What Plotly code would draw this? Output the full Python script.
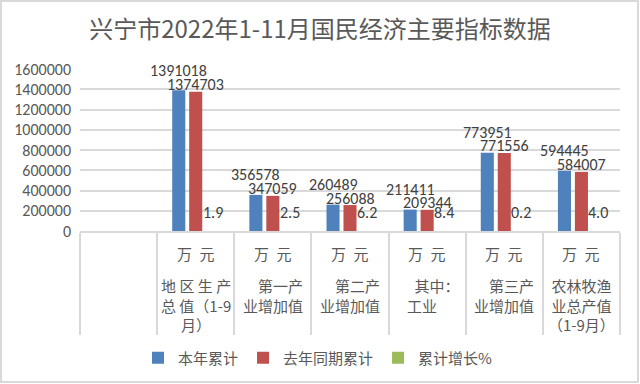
import plotly.graph_objects as go

# ---- data ----
categories = ["", "地 区 生 产<br>总 值（1-9<br>月）", "第一产<br>业增加值", "第二产<br>业增加值",
              "\u2002其中：<br>工业", "第三产<br>业增加值", "农林牧渔<br>业总产值<br>（1-9月）"]
units = ["", "万\u2002元", "万\u2002元", "万\u2002元", "万\u2002元", "万\u2002元", "万\u2002元"]
this_year = [None, 1391018, 356578, 260489, 211411, 773951, 594445]
last_year = [None, 1374703, 347059, 256088, 209344, 771556, 584007]
growth = [None, 1.9, 2.5, 6.2, 8.4, 0.2, 4.0]
name_align = [None, "center", "right", "right", "left", "right", "center"]
name_shift = [0, 0, 0, 0, 6, 0, 0]
series_names = ["本年累计", "去年同期累计", "累计增长%"]
colors = ["#4F81BD", "#C0504D", "#9BBB59"]
y_ticks = list(range(0, 1600001, 200000))

W, H = 640, 384
ML, MR, MT, MB = 80, 20, 69, 153
FONT = "Calibri, Carlito, 'Noto Sans CJK SC', sans-serif"
CJK = "'Noto Sans CJK SC', sans-serif"
TXT = "#595959"

xs = list(range(len(categories)))
fig = go.Figure()
for name, vals, col in zip(series_names, [this_year, last_year, growth], colors):
    fig.add_trace(go.Bar(x=xs, y=vals, name=name, marker=dict(color=col, line=dict(width=0))))

ann = []
lab_font = dict(family=FONT, size=16, color="#404040")
for i in xs:
    if this_year[i] is None:
        continue
    ann.append(dict(x=i, y=this_year[i], xref="x", yref="y", text=str(this_year[i]), showarrow=False,
                    xshift=-17, yshift=20, font=lab_font))
    ann.append(dict(x=i, y=last_year[i], xref="x", yref="y", text=str(last_year[i]), showarrow=False,
                    xshift=0, yshift=7, font=lab_font))
    ann.append(dict(x=i, y=growth[i], xref="x", yref="y", text=f"{growth[i]:.1f}", showarrow=False,
                    xshift=17, yshift=19, font=lab_font))
    ann.append(dict(x=i, y=0, xref="x", yref="paper", text=units[i], showarrow=False,
                    yanchor="middle", yshift=-22, font=dict(family=CJK, size=15, color=TXT)))
    ann.append(dict(x=i, y=0, xref="x", yref="paper", text=categories[i], showarrow=False,
                    align=name_align[i], yanchor="top", yshift=-42, xshift=name_shift[i],
                    font=dict(family=CJK, size=15, color=TXT)))

pw = W - ML - MR
ph = H - MT - MB
border = dict(type="rect", xref="paper", yref="paper",
              x0=(1 - ML) / pw, x1=(638 - ML) / pw,
              y0=(H - MB - 382) / ph, y1=(H - MB - 1) / ph,
              line=dict(color="#D9D9D9", width=2), fillcolor="rgba(0,0,0,0)")

fig.update_layout(
    template="none",
    width=W, height=H,
    margin=dict(l=ML, r=MR, t=MT, b=MB, autoexpand=False),
    paper_bgcolor="white", plot_bgcolor="white",
    barmode="group", bargap=0.34, bargroupgap=0.23,
    title=dict(text="兴宁市2022年1-11月国民经济主要指标数据", x=0.5, xref="container", xanchor="center",
               y=1 - 30 / H, yanchor="middle", yref="container",
               font=dict(family=CJK, size=24, color=TXT)),
    xaxis=dict(range=[-0.5, len(categories) - 0.5], tickmode="array", automargin=False,
               tickvals=[i - 0.5 for i in range(len(categories) + 1)], showticklabels=False,
               ticks="outside", ticklen=102, tickwidth=1.5, tickcolor="#D9D9D9",
               showgrid=False, showline=True, linecolor="#D9D9D9", linewidth=1.5, zeroline=False),
    yaxis=dict(range=[0, 1600000], tickmode="array", tickvals=y_ticks, automargin=False,
               ticktext=[str(v) for v in y_ticks], showgrid=True, gridcolor="#D9D9D9", gridwidth=1.5,
               zeroline=False, showline=False, ticks="", ticklabelstandoff=8,
               tickfont=dict(family=FONT, size=16, color=TXT)),
    legend=dict(orientation="h", x=(318 - ML) / pw, xanchor="center", y=(H - MB - 358) / ph,
                yanchor="middle", itemwidth=30, font=dict(family=CJK, size=15, color=TXT),
                traceorder="normal", itemclick=False, bgcolor="rgba(0,0,0,0)"),
    annotations=ann,
    shapes=[border],
)

fig.write_html("out.html", config={"displayModeBar": False},
               post_script="document.body.style.margin='0';document.body.style.overflow='hidden';")
